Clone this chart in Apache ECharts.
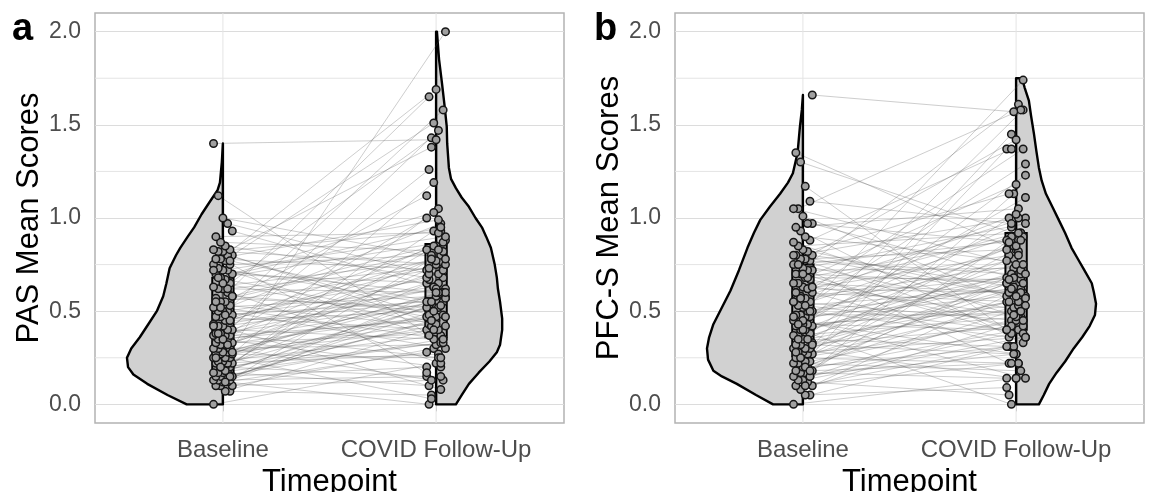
<!DOCTYPE html>
<html>
<head>
<meta charset="utf-8">
<script src="https://cdn.jsdelivr.net/npm/echarts@6.0.0/dist/echarts.min.js"></script>
<style>
  html, body { margin: 0; padding: 0; background: #fff; }
  #chart { width: 1149px; height: 492px; }
</style>
</head>
<body>
<div id="chart"></div>
<script>
const timepoints = ['Baseline', 'COVID Follow-Up'];
const yTicks = [0, 0.5, 1, 1.5, 2];
const yMinor = [0.25, 0.75, 1.25, 1.75];

// PAS mean scores, one entry per participant (same order in both arrays)
const pasBaseline = [
  0.00, 0.07, 0.07, 0.10, 0.10, 0.10, 0.12, 0.12, 0.13, 0.13,
  0.13, 0.15, 0.15, 0.15, 0.15, 0.17, 0.17, 0.17, 0.17, 0.20,
  0.20, 0.20, 0.22, 0.22, 0.22, 0.23, 0.23, 0.25, 0.25, 0.25,
  0.27, 0.27, 0.27, 0.28, 0.28, 0.30, 0.30, 0.30, 0.32, 0.32,
  0.33, 0.33, 0.35, 0.35, 0.35, 0.37, 0.37, 0.37, 0.38, 0.38,
  0.40, 0.40, 0.42, 0.42, 0.43, 0.45, 0.45, 0.47, 0.47, 0.48,
  0.50, 0.50, 0.50, 0.52, 0.53, 0.55, 0.55, 0.57, 0.58, 0.60,
  0.62, 0.62, 0.63, 0.65, 0.67, 0.68, 0.70, 0.70, 0.72, 0.72,
  0.73, 0.75, 0.75, 0.77, 0.78, 0.78, 0.80, 0.80, 0.82, 0.82,
  0.83, 0.83, 0.85, 0.87, 0.90, 0.93, 0.97, 1.00, 1.12, 1.40,
  0.15, 0.18, 0.20, 0.25, 0.28, 0.32, 0.35, 0.38, 0.42, 0.45,
  0.48, 0.52, 0.55, 0.58, 0.62, 0.65, 0.68, 0.72, 0.77, 0.12
];
const pasFollowUp = [
  0.22, 0.05, 0.40, 0.13, 0.55, 0.30, 0.00, 0.62, 0.15, 0.45,
  0.78, 0.20, 0.35, 1.05, 0.50, 0.10, 0.58, 0.33, 0.85, 0.42,
  0.15, 0.68, 0.27, 0.93, 0.52, 2.00, 0.37, 0.47, 0.03, 0.72,
  0.60, 0.25, 1.19, 0.43, 0.57, 0.80, 0.32, 0.13, 0.65, 0.48,
  1.47, 0.38, 0.53, 0.88, 0.20, 0.62, 0.45, 1.00, 0.55, 0.70,
  0.35, 1.26, 0.57, 0.08, 0.75, 0.50, 0.83, 1.58, 0.40, 0.63,
  0.67, 0.30, 0.97, 0.58, 0.42, 1.12, 0.73, 0.52, 0.85, 1.65,
  0.60, 0.22, 0.77, 1.43, 0.47, 0.87, 0.65, 1.03, 0.37, 0.90,
  0.53, 1.69, 0.80, 0.17, 0.72, 0.99, 1.51, 0.48, 0.75, 0.93,
  0.43, 1.38, 0.68, 0.82, 0.92, 0.63, 0.70, 0.78, 0.33, 1.42,
  0.45, 0.52, 0.33, 0.60, 0.40, 0.70, 0.47, 0.25, 0.62, 0.78,
  0.55, 0.35, 0.83, 0.50, 0.73, 0.42, 0.95, 0.60, 0.55, 0.28
];

// PFC-S mean scores
const pfcBaseline = [
  0.00, 0.05, 0.05, 0.08, 0.10, 0.10, 0.12, 0.13, 0.13, 0.15,
  0.15, 0.17, 0.17, 0.18, 0.18, 0.20, 0.20, 0.22, 0.22, 0.23,
  0.23, 0.25, 0.25, 0.27, 0.27, 0.28, 0.28, 0.30, 0.30, 0.30,
  0.32, 0.32, 0.33, 0.35, 0.35, 0.37, 0.37, 0.38, 0.40, 0.40,
  0.42, 0.42, 0.43, 0.43, 0.45, 0.45, 0.47, 0.47, 0.48, 0.48,
  0.50, 0.50, 0.52, 0.53, 0.55, 0.55, 0.57, 0.58, 0.60, 0.60,
  0.62, 0.63, 0.65, 0.65, 0.67, 0.68, 0.70, 0.70, 0.72, 0.72,
  0.73, 0.75, 0.75, 0.77, 0.78, 0.78, 0.80, 0.80, 0.82, 0.83,
  0.85, 0.87, 0.88, 0.90, 0.93, 0.95, 0.97, 0.97, 1.01, 1.05,
  1.05, 1.09, 1.17, 1.30, 1.35, 1.66, 0.62, 0.45, 0.35, 0.55,
  0.15, 0.20, 0.25, 0.28, 0.32, 0.35, 0.40, 0.43, 0.47, 0.50,
  0.53, 0.57, 0.60, 0.63, 0.68, 0.70, 0.75, 0.80, 0.18, 0.10
];
const pfcFollowUp = [
  0.14, 0.31, 0.09, 0.45, 0.22, 0.60, 0.05, 0.36, 0.92, 0.27,
  0.50, 0.14, 0.72, 0.40, 1.13, 0.31, 0.58, 0.18, 0.83, 0.45,
  1.37, 0.63, 0.22, 0.52, 1.00, 0.36, 0.67, 0.14, 1.45, 0.55,
  0.42, 0.88, 0.62, 0.31, 1.23, 0.47, 0.75, 0.00, 0.65, 1.58,
  0.53, 0.85, 0.40, 1.11, 0.70, 0.27, 0.95, 0.58, 1.74, 0.48,
  0.78, 0.36, 1.29, 0.62, 0.45, 0.90, 0.68, 1.37, 0.55, 0.31,
  0.80, 1.00, 0.60, 1.18, 0.42, 0.88, 0.65, 1.61, 0.73, 0.22,
  0.97, 0.50, 1.42, 0.70, 0.83, 0.38, 1.00, 0.63, 1.13, 0.57,
  0.92, 0.47, 1.37, 0.77, 0.33, 1.05, 0.68, 0.87, 0.53, 1.58,
  0.75, 0.97, 0.40, 0.90, 0.82, 1.57, 0.60, 0.14, 0.72, 1.02,
  0.38, 0.65, 0.45, 0.80, 0.27, 0.55, 0.70, 0.50, 0.85, 0.62,
  0.40, 0.75, 0.92, 0.48, 0.67, 0.36, 0.88, 0.58, 0.22, 0.31
];

// half-violin outlines: [score, half width in timepoint units]
const pasBaselineViolin = [
  [0.00, 0.17], [0.05, 0.26], [0.11, 0.355], [0.16, 0.42], [0.20, 0.445], [0.25, 0.45],
  [0.30, 0.43], [0.36, 0.39], [0.43, 0.35], [0.50, 0.31], [0.58, 0.28], [0.65, 0.265],
  [0.73, 0.25], [0.80, 0.22], [0.84, 0.20], [0.90, 0.165], [0.95, 0.135], [1.02, 0.10],
  [1.09, 0.06], [1.15, 0.025], [1.19, 0.014], [1.30, 0.005], [1.40, 0]
];
const pasFollowUpViolin = [
  [0.00, 0.093], [0.05, 0.12], [0.11, 0.154], [0.17, 0.20], [0.23, 0.25], [0.28, 0.285],
  [0.32, 0.30], [0.40, 0.31], [0.46, 0.31], [0.55, 0.30], [0.62, 0.29], [0.68, 0.285],
  [0.75, 0.275], [0.84, 0.257], [0.90, 0.235], [0.95, 0.215], [1.00, 0.185], [1.06, 0.154],
  [1.11, 0.12], [1.16, 0.093], [1.21, 0.07], [1.27, 0.06], [1.40, 0.052], [1.49, 0.05],
  [1.60, 0.04], [1.72, 0.028], [1.85, 0.014], [2.00, 0.004]
];
const pfcBaselineViolin = [
  [0.00, 0.14], [0.05, 0.22], [0.11, 0.31], [0.15, 0.38], [0.18, 0.42], [0.24, 0.445],
  [0.30, 0.45], [0.36, 0.44], [0.43, 0.42], [0.52, 0.38], [0.61, 0.34], [0.72, 0.30],
  [0.84, 0.26], [0.92, 0.23], [0.99, 0.20], [1.06, 0.155], [1.13, 0.107], [1.19, 0.07],
  [1.24, 0.047], [1.35, 0.025], [1.49, 0.014], [1.58, 0.005], [1.66, 0]
];
const pfcFollowUpViolin = [
  [0.00, 0.107], [0.05, 0.13], [0.11, 0.155], [0.17, 0.19], [0.23, 0.23], [0.30, 0.27],
  [0.36, 0.31], [0.42, 0.345], [0.48, 0.37], [0.54, 0.375], [0.60, 0.365], [0.65, 0.355],
  [0.72, 0.32], [0.78, 0.29], [0.84, 0.26], [0.92, 0.23], [0.99, 0.20], [1.06, 0.17],
  [1.13, 0.14], [1.20, 0.12], [1.27, 0.107], [1.36, 0.095], [1.45, 0.084], [1.55, 0.07],
  [1.63, 0.06], [1.70, 0.04], [1.75, 0.028]
];

// boxplots: [timepoint, whisker low, q1, median, q3, whisker high]
const pasBoxes = [[1, 0, 0.17, 0.37, 0.68, 1.40], [2, 0, 0.36, 0.57, 0.86, 1.58]];
const pfcBoxes = [[1, 0, 0.26, 0.48, 0.75, 1.35], [2, 0, 0.40, 0.63, 0.92, 1.61]];

const FONT = '"Liberation Sans", Arial, sans-serif';
const X_MIN = 0.4, X_MAX = 2.6, Y_MIN = -0.1, Y_MAX = 2.1;
const BOX_HALF = 0.05;

// small horizontal spread so the points don't sit on top of each other
function jitter(i, k) {
  return (((i * 7 + k * 4) % 9) - 4) * 0.011;
}

function buildPanel(g, base, follow, violins, boxes) {
  const gridLines = {
    type: 'custom', xAxisIndex: g, yAxisIndex: g, z: 1, silent: true,
    data: yMinor.map(v => [0, v]).concat([[1, 1], [1, 2]]),
    renderItem: function (params, api) {
      const cs = params.coordSys;
      let shape;
      if (api.value(0) === 0) {
        const y = api.coord([1, api.value(1)])[1];
        shape = { x1: cs.x, y1: y, x2: cs.x + cs.width, y2: y };
      } else {
        const x = api.coord([api.value(1), 0])[0];
        shape = { x1: x, y1: cs.y, x2: x, y2: cs.y + cs.height };
      }
      return { type: 'line', shape: shape, style: { stroke: '#e4e4e4', lineWidth: 1 } };
    }
  };

  const violin = {
    type: 'custom', xAxisIndex: g, yAxisIndex: g, z: 2, silent: true,
    data: [[1, -1], [2, 1]],
    renderItem: function (params, api) {
      const center = api.value(0);
      const side = api.value(1);
      const outline = violins[params.dataIndex];
      const pts = [api.coord([center, outline[0][0]])];
      outline.forEach(p => pts.push(api.coord([center + side * p[1], p[0]])));
      pts.push(api.coord([center, outline[outline.length - 1][0]]));
      return {
        type: 'polygon', shape: { points: pts },
        style: { fill: '#d1d1d1', stroke: '#000', lineWidth: 2.4, lineJoin: 'round' }
      };
    }
  };

  const pairs = {
    type: 'custom', xAxisIndex: g, yAxisIndex: g, z: 3, silent: true,
    data: base.map((v, i) => [v, follow[i]]),
    renderItem: function (params, api) {
      const i = params.dataIndex;
      const p1 = api.coord([1 + jitter(i, 0), api.value(0)]);
      const p2 = api.coord([2 + jitter(i, 1), api.value(1)]);
      return {
        type: 'line', shape: { x1: p1[0], y1: p1[1], x2: p2[0], y2: p2[1] },
        style: { stroke: 'rgba(80,80,80,0.36)', lineWidth: 0.8 }
      };
    }
  };

  const box = {
    type: 'custom', xAxisIndex: g, yAxisIndex: g, z: 4, silent: true,
    data: boxes,
    renderItem: function (params, api) {
      const x = api.value(0);
      const lo = api.coord([x, api.value(1)]);
      const q1 = api.coord([x - BOX_HALF, api.value(2)]);
      const med = api.value(3);
      const q3 = api.coord([x + BOX_HALF, api.value(4)]);
      const hi = api.coord([x, api.value(5)]);
      const m1 = api.coord([x - BOX_HALF, med]);
      const m2 = api.coord([x + BOX_HALF, med]);
      const line = { stroke: '#000', lineWidth: 2 };
      return {
        type: 'group',
        children: [
          { type: 'line', shape: { x1: lo[0], y1: lo[1], x2: lo[0], y2: q1[1] }, style: line },
          { type: 'line', shape: { x1: hi[0], y1: q3[1], x2: hi[0], y2: hi[1] }, style: line },
          { type: 'rect', shape: { x: q1[0], y: q3[1], width: q3[0] - q1[0], height: q1[1] - q3[1] },
            style: { fill: 'rgba(150,150,150,0.55)', stroke: '#000', lineWidth: 2 } },
          { type: 'line', shape: { x1: m1[0], y1: m1[1], x2: m2[0], y2: m2[1] }, style: line }
        ]
      };
    }
  };

  const points = {
    type: 'scatter', xAxisIndex: g, yAxisIndex: g, z: 5, silent: true,
    symbol: 'circle', symbolSize: 7.5,
    itemStyle: { color: '#a0a0a0', borderColor: '#161616', borderWidth: 1.5, opacity: 1 },
    data: base.map((v, i) => [1 + jitter(i, 0), v])
      .concat(follow.map((v, i) => [2 + jitter(i, 1), v]))
  };

  return [gridLines, violin, pairs, box, points];
}

function xAxis(g) {
  return {
    type: 'value', gridIndex: g, min: X_MIN, max: X_MAX,
    name: 'Timepoint', nameLocation: 'middle', nameGap: 41,
    nameTextStyle: { fontSize: 31, color: '#000', fontFamily: FONT },
    axisLine: { show: false },
    axisTick: { show: true, customValues: [1, 2], length: 7, lineStyle: { color: '#b3b3b3', width: 1 } },
    axisLabel: {
      customValues: [1, 2], margin: 15, fontSize: 24, color: '#4d4d4d', fontFamily: FONT,
      formatter: v => timepoints[Math.round(v) - 1] || ''
    },
    splitLine: { show: false }
  };
}

function yAxis(g, title) {
  return {
    type: 'value', gridIndex: g, min: Y_MIN, max: Y_MAX,
    name: title, nameLocation: 'middle', nameGap: 48,
    nameTextStyle: { fontSize: 31, color: '#000', fontFamily: FONT },
    axisLine: { show: false },
    axisTick: { show: false, customValues: yTicks },
    axisLabel: {
      customValues: yTicks, margin: 14, fontSize: 23, color: '#4d4d4d', fontFamily: FONT,
      padding: [5, 0, 0, 0],
      formatter: v => v.toFixed(1)
    },
    splitLine: { show: true, lineStyle: { color: '#dcdcdc', width: 1 } }
  };
}

const chart = echarts.init(document.getElementById('chart'));
chart.setOption({
  animation: false,
  backgroundColor: '#fff',
  title: [
    { text: 'a', left: 7, top: 6, textStyle: { fontSize: 38, fontWeight: 'bold', color: '#000', fontFamily: FONT } },
    { text: 'b', left: 589, top: 6, textStyle: { fontSize: 38, fontWeight: 'bold', color: '#000', fontFamily: FONT } }
  ],
  grid: [
    { left: 95, right: 585, top: 13, bottom: 69, show: true, borderColor: '#b3b3b3', borderWidth: 1.5,
      backgroundColor: '#fff', containLabel: false, outerBoundsMode: 'none' },
    { left: 675, right: 5, top: 13, bottom: 69, show: true, borderColor: '#b3b3b3', borderWidth: 1.5,
      backgroundColor: '#fff', containLabel: false, outerBoundsMode: 'none' }
  ],
  xAxis: [xAxis(0), xAxis(1)],
  yAxis: [yAxis(0, 'PAS Mean Scores'), yAxis(1, 'PFC-S Mean Scores')],
  series: buildPanel(0, pasBaseline, pasFollowUp, [pasBaselineViolin, pasFollowUpViolin], pasBoxes)
    .concat(buildPanel(1, pfcBaseline, pfcFollowUp, [pfcBaselineViolin, pfcFollowUpViolin], pfcBoxes))
});
</script>
</body>
</html>
